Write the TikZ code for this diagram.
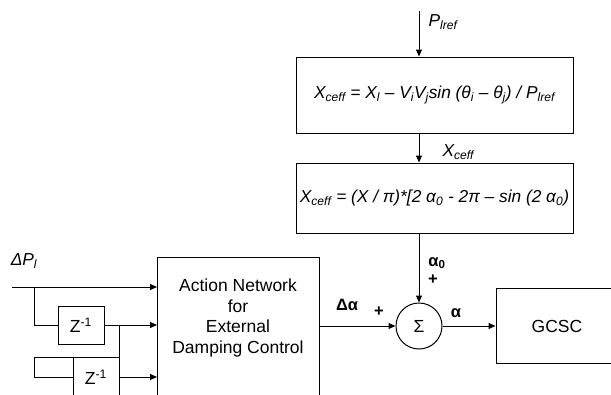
\documentclass[tikz,border=0pt]{standalone}
\usepackage{fontspec}
\setmainfont{Liberation Sans}
\usetikzlibrary{arrows.meta,positioning}

\begin{document}
\begin{tikzpicture}[x=1pt,y=-1pt,
    block/.style={rectangle, draw=black, line width=1pt, inner sep=0pt},
    wire/.style={draw=black, line width=1pt},
    sig/.style={wire, -{Triangle[length=7pt,width=6pt]}},
    eqn/.style={font=\fontsize{17.3}{20}\selectfont\itshape},
    lbl/.style={font=\fontsize{17.5}{20.5}\selectfont},
    sgn/.style={font=\fontsize{16.5}{18}\selectfont\bfseries}
    ]
    \useasboundingbox (0,0) rectangle (611,394);
    % upper chain
    \node[block, eqn, minimum width=277pt, minimum height=76pt] (xcalc) at (434.5,95)
        {X\textsubscript{ceff} = X\textsubscript{l} – V\textsubscript{i}V\textsubscript{j}sin (θ\textsubscript{i} – θ\textsubscript{j}) / P\textsubscript{lref}};
    \node[block, eqn, minimum width=277pt, minimum height=70pt] (xeq) at (434.5,198)
        {X\textsubscript{ceff} = (X / π)*[2 α\textsubscript{0} - 2π – sin (2 α\textsubscript{0})};
    \node[circle, draw=black, line width=1pt, minimum size=46pt, inner sep=0pt, lbl] (sum) at (419,326) {Σ};
    \node[block, lbl, minimum width=122pt, minimum height=75pt] (gcsc) at (557,326) {GCSC};
    \coordinate (pin) at (419,11);

    \draw[sig] (pin) -- (pin |- xcalc.north);
    \draw[sig] (pin |- xcalc.south) -- (pin |- xeq.north);
    \draw[sig] (sum |- xeq.south) -- (sum.north);

    \node[eqn, anchor=west] (plref) at (425,22) {P\textsubscript{lref}};
    \node[eqn, anchor=west] (xlab) at (439,152) {X\textsubscript{ceff}};
    \node[sgn] (a0) at (437,263) {α\textsubscript{0}};
    \node[sgn] (plus1) at (433,280) {+};

    % damping controller
    \node[block, minimum width=162pt, minimum height=145pt, anchor=north west] (act) at (157,257) {};
    \node[lbl, align=center] (acttxt) at (238,318) {Action Network\\for\\External\\Damping Control};
    \node[block, lbl, minimum width=46pt, minimum height=38pt] (zd1) at (81,325) {Z\textsuperscript{-1}};
    \node[block, lbl, minimum width=46pt, minimum height=40pt] (zd2) at (96,377) {Z\textsuperscript{-1}};

    \draw[sig] (act.east |- sum) -- (sum.west);
    \draw[sig] (sum.east) -- (gcsc.west |- sum);
    \node[sgn] (dalpha) at (347,305) {Δα};
    \node[sgn] (plus2) at (379,312) {+};
    \node[sgn] (alpha) at (456,313) {α};

    % tapped inputs
    \node[eqn] (dpl) at (24,261) {ΔP\textsubscript{l}};
    \coordinate (dpin) at (12,287);
    \coordinate (tap1) at (34,287);
    \coordinate (tap2) at (119,325);
    \coordinate (loop) at (34,357);
    \draw[sig] (dpin) -- (dpin -| act.west);
    \draw[wire] (tap1) |- (zd1.west);
    \draw[sig] (zd1.east) -- (zd1 -| act.west);
    \draw[wire] (tap2) |- (loop) |- (zd2.west);
    \draw[sig] (zd2.east) -- (zd2 -| act.west);
\end{tikzpicture}
\end{document}
